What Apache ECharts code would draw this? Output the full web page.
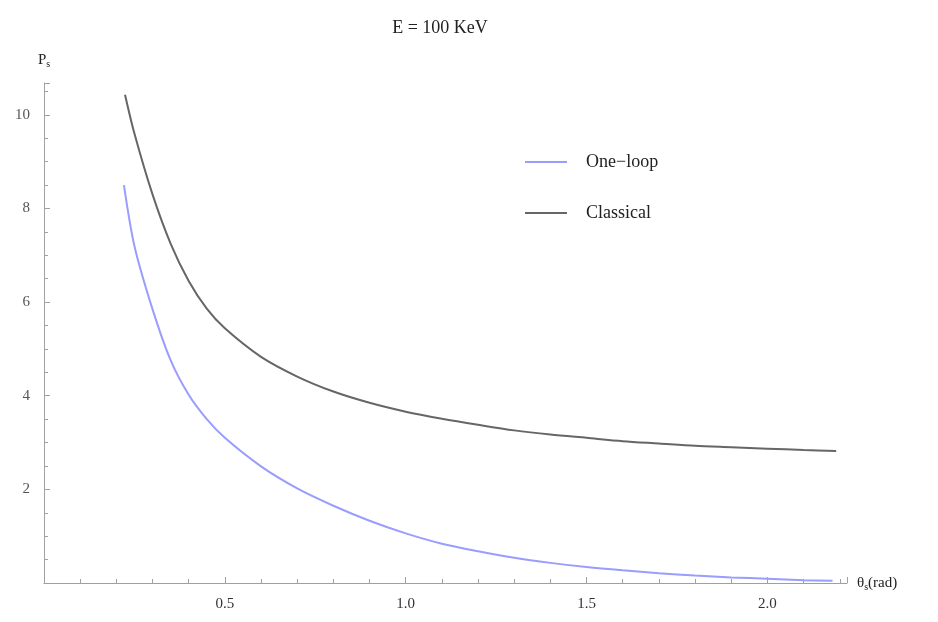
<!DOCTYPE html>
<html>
<head>
<meta charset="utf-8">
<script src="https://cdn.jsdelivr.net/npm/echarts@6/dist/echarts.min.js"></script>
<style>
  html, body { margin: 0; padding: 0; background: #fff; }
  #chart { width: 938px; height: 622px; }
</style>
</head>
<body>
<div id="chart"></div>
<script>
// values
var thetaOneLoop = [0.221, 0.25, 0.3, 0.35, 0.4, 0.45, 0.5, 0.6, 0.7, 0.8, 0.9, 1.0, 1.1, 1.2, 1.3, 1.4, 1.5, 1.6, 1.7, 1.8, 1.9, 2.0, 2.1, 2.18];
var oneLoop = [8.5, 7.2, 5.85, 4.76, 4.02, 3.5, 3.1, 2.49, 2.02, 1.65, 1.33, 1.06, 0.84, 0.68, 0.54, 0.43, 0.34, 0.27, 0.21, 0.16, 0.12, 0.09, 0.06, 0.05];
var thetaClassical = [0.224, 0.25, 0.3, 0.35, 0.4, 0.45, 0.5, 0.6, 0.7, 0.8, 0.9, 1.0, 1.1, 1.2, 1.3, 1.4, 1.5, 1.6, 1.7, 1.8, 1.9, 2.0, 2.1, 2.19];
var classical = [10.43, 9.6, 8.3, 7.25, 6.45, 5.86, 5.44, 4.83, 4.41, 4.09, 3.85, 3.66, 3.51, 3.38, 3.26, 3.17, 3.1, 3.03, 2.98, 2.93, 2.9, 2.87, 2.84, 2.82];
var seriesNames = ['One\u2212loop', 'Classical'];

function pairs(xs, ys) {
  var out = [];
  for (var i = 0; i < xs.length; i++) out.push([xs[i], ys[i]]);
  return out;
}

var serif = '"Liberation Serif", "DejaVu Serif", serif';
var axisGray = '#a0a0a0';

var chart = echarts.init(document.getElementById('chart'));
chart.setOption({
  animation: false,
  title: {
    text: 'E = 100 KeV',
    left: 435,
    textAlign: 'center',
    top: 14,
    textStyle: { fontFamily: serif, fontSize: 18, fontWeight: 'normal', color: '#222' }
  },
  legend: {
    orient: 'vertical',
    left: 520,
    top: 148,
    icon: 'rect',
    itemWidth: 42,
    itemHeight: 2,
    itemGap: 33,
    textStyle: { fontFamily: serif, fontSize: 18, color: '#222', padding: [0, 0, 0, 14] },
    data: seriesNames
  },
  grid: { left: 44, right: 91, top: 83, bottom: 39 },
  xAxis: {
    type: 'value',
    min: 0,
    max: 2.22,
    interval: 0.5,
    name: '{t|\u03b8}{s|s}{t|(rad)}',
    nameLocation: 'end',
    nameGap: 10,
    nameTextStyle: {
      rich: {
        t: { fontFamily: serif, fontSize: 15, color: '#222' },
        s: { fontFamily: serif, fontSize: 10, color: '#222', verticalAlign: 'bottom', padding: [8, 0, 0, 0] }
      }
    },
    splitLine: { show: false },
    axisLine: { lineStyle: { color: axisGray, width: 1 } },
    axisTick: { inside: true, length: 6, lineStyle: { color: axisGray } },
    minorTick: { show: true, splitNumber: 5, length: 4, lineStyle: { color: axisGray } },
    axisLabel: {
      showMaxLabel: false,
      margin: 14,
      fontFamily: serif,
      fontSize: 15,
      color: '#333',
      formatter: function (v) { return v === 0 ? '' : v.toFixed(1); }
    }
  },
  yAxis: {
    type: 'value',
    min: 0,
    max: 10.68,
    interval: 2,
    name: '{t|P}{s|s}',
    nameLocation: 'end',
    nameGap: 14,
    nameTextStyle: {
      align: 'center',
      rich: {
        t: { fontFamily: serif, fontSize: 15, color: '#222' },
        s: { fontFamily: serif, fontSize: 10, color: '#222', padding: [8, 0, 0, 0] }
      }
    },
    splitLine: { show: false },
    axisLine: { lineStyle: { color: axisGray, width: 1 } },
    axisTick: { inside: true, length: 6, lineStyle: { color: axisGray } },
    minorTick: { show: true, splitNumber: 4, length: 4, lineStyle: { color: axisGray } },
    axisLabel: {
      showMaxLabel: false,
      margin: 14,
      fontFamily: serif,
      fontSize: 15,
      color: '#555',
      formatter: function (v) { return v === 0 ? '' : String(v); }
    }
  },
  series: [
    {
      name: seriesNames[0],
      type: 'line',
      smooth: 0.3,
      symbol: 'none',
      lineStyle: { color: '#9a9cff', width: 2 },
      itemStyle: { color: '#9a9cff' },
      data: pairs(thetaOneLoop, oneLoop)
    },
    {
      name: seriesNames[1],
      type: 'line',
      smooth: 0.3,
      symbol: 'none',
      lineStyle: { color: '#666', width: 2 },
      itemStyle: { color: '#666' },
      data: pairs(thetaClassical, classical)
    }
  ]
});
</script>
</body>
</html>
